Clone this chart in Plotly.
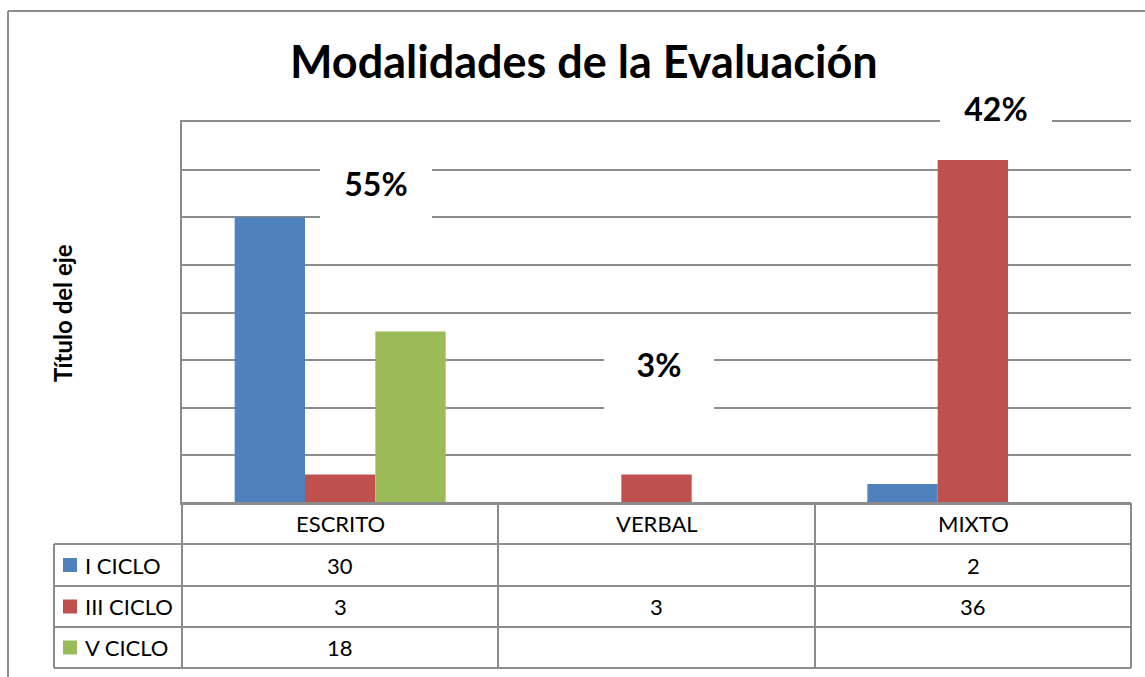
import plotly.graph_objects as go

categories = ["ESCRITO", "VERBAL", "MIXTO"]
series_names = ["I CICLO", "III CICLO", "V CICLO"]
i_ciclo = [30, None, 2]
iii_ciclo = [3, 3, 36]
v_ciclo = [18, None, None]
pct_labels = ["55%", "3%", "42%"]
colors = ["#4F81BD", "#C0504D", "#9BBB59"]

W, H = 1145, 677
L, R, T, B = 182, 1131, 122, 503
FONT = "Lato"
GRID = "#8c8c8c"


def px(x):
    return (x - L) / (R - L)


def py(y):
    return (B - y) / (B - T)


series = [i_ciclo, iii_ciclo, v_ciclo]
fig = go.Figure()
for name, vals, col in zip(series_names, series, colors):
    fig.add_trace(go.Bar(x=categories, y=vals, name=name, marker=dict(color=col, line=dict(width=0))))

shapes = []
annotations = []


def ann(text, x, y, size, bold=False, xanchor="center", angle=0, **kw):
    f = dict(family=FONT, size=size, color="black")
    if bold:
        f["weight"] = "bold"
    d = dict(text=text, xref="paper", yref="paper", x=px(x), y=py(y), showarrow=False,
             font=f, xanchor=xanchor, yanchor="middle", textangle=angle)
    d.update(kw)
    annotations.append(d)


# outer border
shapes.append(dict(type="line", xref="paper", yref="paper", x0=px(8), x1=px(W + 5), y0=py(11), y1=py(11), line=dict(color=GRID, width=2)))
shapes.append(dict(type="line", xref="paper", yref="paper", x0=px(8), x1=px(8), y0=py(11), y1=py(H + 5), line=dict(color=GRID, width=2)))

# percentage labels with white boxes that hide gridlines: (x0, x1, y0, y1)
boxes = [(320, 432, 140, 226), (604, 714, 316, 412), (940, 1052, 88, 128)]
for (x0, x1, y0, y1), lab in zip(boxes, pct_labels):
    ann(lab, (x0 + x1) / 2, (y0 + y1) / 2, 32, bold=True, bgcolor="white",
        width=x1 - x0, height=y1 - y0, borderpad=0, borderwidth=0)

# data table
col_x = [L, 498, 815, R]
row_y = [B, 544, 586, 627, 668]
leg_left = 54
lc = dict(color=GRID, width=2)
shapes.append(dict(type="line", xref="paper", yref="paper", x0=px(L), x1=px(R), y0=py(row_y[0]), y1=py(row_y[0]), line=lc))
for y in row_y[1:]:
    shapes.append(dict(type="line", xref="paper", yref="paper", x0=px(leg_left), x1=px(R), y0=py(y), y1=py(y), line=lc))
for x in col_x:
    shapes.append(dict(type="line", xref="paper", yref="paper", x0=px(x), x1=px(x), y0=py(row_y[0]), y1=py(row_y[-1]), line=lc))
shapes.append(dict(type="line", xref="paper", yref="paper", x0=px(leg_left), x1=px(leg_left), y0=py(row_y[1]), y1=py(row_y[-1]), line=lc))

TS = 22
for i, cat in enumerate(categories):
    cx = (col_x[i] + col_x[i + 1]) / 2
    ann(cat, cx, (row_y[0] + row_y[1]) / 2, TS)
for r, (name, vals, col) in enumerate(zip(series_names, series, colors)):
    cy = (row_y[r + 1] + row_y[r + 2]) / 2
    shapes.append(dict(type="rect", xref="paper", yref="paper", x0=px(63), x1=px(77), y0=py(cy + 7), y1=py(cy - 7), fillcolor=col, line=dict(width=0)))
    ann(name, 83, cy, TS, xanchor="left")
    for i, v in enumerate(vals):
        if v is None:
            continue
        cx = (col_x[i] + col_x[i + 1]) / 2
        ann(str(v), cx, cy, TS)

# title and axis title
ann("Modalidades de la Evaluación", 584, 61, 45, bold=True)
ann("Título del eje", 62, 313, 24, bold=True, angle=-90)

fig.update_layout(
    width=W, height=H,
    margin=dict(l=L, r=W - R, t=T, b=H - B, pad=0),
    paper_bgcolor="white", plot_bgcolor="white",
    barmode="group", bargap=0.333, bargroupgap=0,
    showlegend=False,
    shapes=shapes, annotations=annotations,
    xaxis=dict(showticklabels=False, showgrid=False, showline=True, mirror=True, linecolor=GRID,
               linewidth=1.5, zeroline=False, ticks=""),
    yaxis=dict(range=[0, 40], dtick=5, showticklabels=False, showgrid=True, gridcolor=GRID, gridwidth=1.5,
               showline=True, linecolor=GRID, linewidth=2, zeroline=False, ticks=""),
)
fig.write_html("out.html", config={"displayModeBar": False},
               post_script="document.body.style.margin='0';document.body.style.overflow='hidden';")
